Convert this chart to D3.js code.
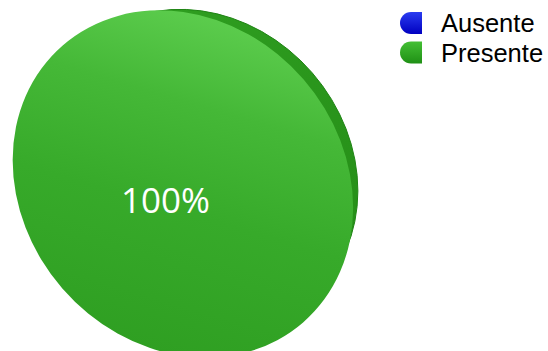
<!DOCTYPE html>
<html>
<head>
<meta charset="utf-8">
<script src="https://cdn.jsdelivr.net/npm/d3@7"></script>
<style>
  html, body { margin: 0; padding: 0; background: #ffffff; }
  svg { display: block; }
</style>
</head>
<body>
<svg id="chart" width="548" height="351"></svg>
<script>
// Series
const categories = ["Ausente", "Presente"];
const values = [0, 100];
const sliceColors = ["#1222d8", "#36aa29"];
const percentLabels = ["0%", "100%"];

const svg = d3.select("#chart");
const defs = svg.append("defs");

// Tilted disc: the front face, and a slightly smaller back face shifted
// up and right so that its edge shows as the rim.
const R = 100;
const front = { cx: 182.9, cy: 183.9, rx: 183.4, ry: 159.6, rot: 49.05 };
const back  = { cx: 201.3, cy: 169.0, rx: 168.7, ry: 146.8, rot: 49.05 };

const tf = g => `translate(${g.cx},${g.cy}) rotate(${g.rot}) scale(${g.rx / R},${g.ry / R})`;
const inv = g => `scale(${R / g.rx},${R / g.ry}) rotate(${-g.rot}) translate(${-g.cx},${-g.cy})`;

// Gradients expressed in page coordinates
const frontGrad = defs.append("linearGradient")
  .attr("id", "frontGrad").attr("gradientUnits", "userSpaceOnUse")
  .attr("gradientTransform", inv(front))
  .attr("x1", 250).attr("y1", 10).attr("x2", 150).attr("y2", 350);
frontGrad.append("stop").attr("offset", 0).attr("stop-color", "#60d051");
frontGrad.append("stop").attr("offset", 0.3).attr("stop-color", "#45b837");
frontGrad.append("stop").attr("offset", 0.6).attr("stop-color", "#37aa2a");
frontGrad.append("stop").attr("offset", 1).attr("stop-color", "#2f9f22");

const rimGrad = defs.append("linearGradient")
  .attr("id", "rimGrad").attr("gradientUnits", "userSpaceOnUse")
  .attr("gradientTransform", inv(back))
  .attr("x1", 160).attr("y1", 5).attr("x2", 355).attr("y2", 250);
rimGrad.append("stop").attr("offset", 0).attr("stop-color", "#2f9e20");
rimGrad.append("stop").attr("offset", 0.5).attr("stop-color", "#2a961c");
rimGrad.append("stop").attr("offset", 1).attr("stop-color", "#268f18");

const pie = d3.pie().sort(null).value(d => d.value);
const data = categories.map((c, i) => ({ category: c, value: values[i], color: sliceColors[i], label: percentLabels[i] }));
const arcs = pie(data).filter(d => d.value > 0);
const arc = d3.arc().innerRadius(0).outerRadius(R);

// Rim (back face)
svg.append("g").attr("transform", tf(back))
  .selectAll("path").data(arcs).join("path")
  .attr("d", arc)
  .attr("fill", "url(#rimGrad)")
  .attr("stroke", "#1f8414")
  .attr("stroke-width", 1)
  .attr("vector-effect", "non-scaling-stroke");

// Front face
svg.append("g").attr("transform", tf(front))
  .selectAll("path").data(arcs).join("path")
  .attr("d", arc)
  .attr("fill", "url(#frontGrad)");

// Percentage label
svg.selectAll("text.pct").data(arcs).join("text")
  .attr("class", "pct")
  .attr("x", front.cx - 17.5)
  .attr("y", front.cy + 29)
  .attr("text-anchor", "middle")
  .attr("font-family", "'Open Sans', sans-serif")
  .attr("font-size", 35)
  .attr("fill", "#ffffff")
  .text(d => d.data.label);

// Legend
const legendColors = [["#2a3cf0", "#0000c0"], ["#44bf34", "#1f9015"]];
legendColors.forEach((c, i) => {
  const g = defs.append("linearGradient").attr("id", "lg" + i)
    .attr("x1", 0).attr("y1", 0).attr("x2", 0).attr("y2", 1);
  g.append("stop").attr("offset", 0).attr("stop-color", c[0]);
  g.append("stop").attr("offset", 1).attr("stop-color", c[1]);
});

const legend = svg.append("g").attr("transform", "translate(400,12)");
const item = legend.selectAll("g").data(categories).join("g")
  .attr("transform", (d, i) => `translate(0,${i * 29.5})`);
const s = 22;
item.append("path")
  .attr("d", `M${s / 2},0 H${s} V${s} H${s / 2} A${s / 2},${s / 2} 0 0 1 ${s / 2},0 Z`)
  .attr("fill", (d, i) => `url(#lg${i})`);
item.append("text")
  .attr("x", 41).attr("y", 20)
  .attr("font-family", "'Liberation Sans', Arial, sans-serif")
  .attr("font-size", 25.5)
  .attr("fill", "#000000")
  .text(d => d);
</script>
</body>
</html>
